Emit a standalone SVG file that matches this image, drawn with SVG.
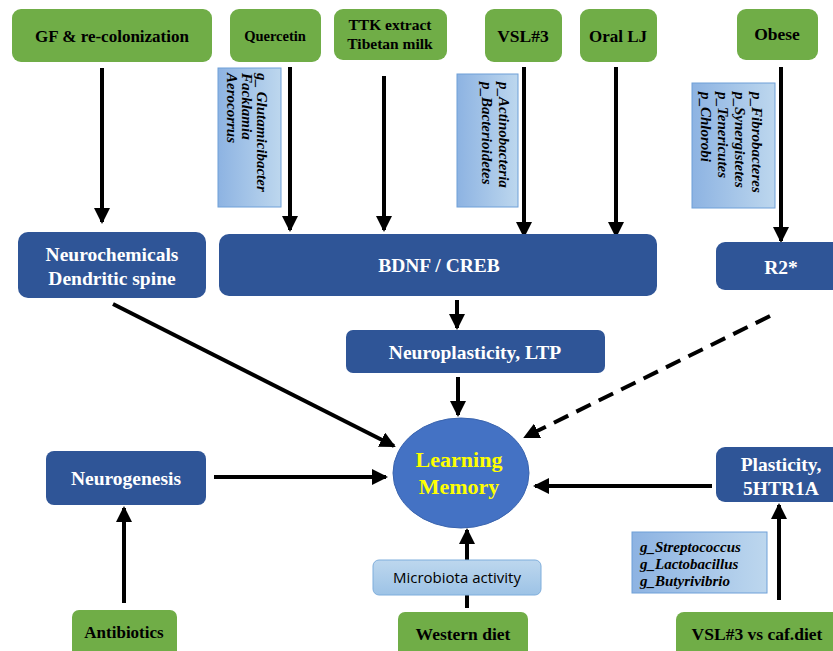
<svg xmlns="http://www.w3.org/2000/svg" width="833" height="651" viewBox="0 0 833 651">
<defs>
<marker id="ah" markerUnits="userSpaceOnUse" markerWidth="16" markerHeight="16" refX="14" refY="8" orient="auto">
<path d="M0,0 L16,8 L0,16 z" fill="#000"/>
</marker>
<linearGradient id="lb" x1="0" y1="0" x2="1" y2="0">
<stop offset="0" stop-color="#8DB3E2"/>
<stop offset="1" stop-color="#BDD7EE"/>
</linearGradient>
<linearGradient id="lb2" x1="0" y1="0" x2="0" y2="1">
<stop offset="0" stop-color="#BDD7EE"/>
<stop offset="1" stop-color="#9DC3E6"/>
</linearGradient>
<style>
.g{fill:#70AD47;}
.d{fill:#2F5597;}
.sb{fill:url(#lb);stroke:#6FA0D8;stroke-width:1;}
.tb{font-family:"Liberation Serif",serif;font-weight:bold;fill:#000;text-anchor:middle;}
.tw{font-family:"Liberation Serif",serif;font-weight:bold;fill:#fff;text-anchor:middle;font-size:19.5px;}
.ti{font-family:"Liberation Serif",serif;font-weight:bold;font-style:italic;fill:#000;font-size:15px;}
.c line{stroke:#000;stroke-width:4;marker-end:url(#ah);}
</style>
</defs>
<rect width="833" height="651" fill="#fff"/>

<g class="c" id="connectors">
<line x1="102" y1="68" x2="102" y2="222"/>
<line x1="290" y1="67" x2="290" y2="230"/>
<line x1="384" y1="76" x2="384" y2="230"/>
<line x1="524" y1="67" x2="524" y2="236"/>
<line x1="616" y1="67" x2="616" y2="236"/>
<line x1="781" y1="67" x2="781" y2="241"/>
<line x1="113" y1="304" x2="394" y2="446"/>
<line x1="457" y1="300" x2="457" y2="328"/>
<line x1="458" y1="377" x2="458" y2="415"/>
<line x1="770" y1="316" x2="525" y2="437" stroke-dasharray="16,9"/>
<line x1="214" y1="477" x2="386" y2="477"/>
<line x1="712" y1="486" x2="535" y2="486"/>
<line x1="124" y1="603" x2="124" y2="508"/>
<line x1="467" y1="608" x2="467" y2="530"/>
<line x1="779" y1="600" x2="779" y2="505"/>
</g>

<g id="n-gf"><rect class="g" x="12" y="9" width="200" height="53" rx="9"/><text class="tb" x="112" y="42" font-size="17">GF &amp; re-colonization</text></g>
<g id="n-quercetin"><rect class="g" x="230" y="9" width="91" height="53" rx="9"/><text class="tb" x="275" y="41" font-size="14.5">Quercetin</text></g>
<g id="n-ttk"><rect class="g" x="334" y="9" width="113" height="51" rx="9"/><text class="tb" x="390" y="30" font-size="15.5">TTK extract</text><text class="tb" x="390" y="49" font-size="15.5">Tibetan milk</text></g>
<g id="n-vsl3"><rect class="g" x="485" y="9" width="77" height="53" rx="9"/><text class="tb" x="523" y="42" font-size="17.5">VSL#3</text></g>
<g id="n-orallj"><rect class="g" x="580" y="9" width="77" height="53" rx="9"/><text class="tb" x="618" y="42" font-size="17">Oral LJ</text></g>
<g id="n-obese"><rect class="g" x="737" y="9" width="81" height="51" rx="9"/><text class="tb" x="777" y="40" font-size="17.5">Obese</text></g>

<g id="n-quercetin-taxa"><rect class="sb" x="218" y="68" width="63" height="139"/>
<g transform="translate(257,73) rotate(90)"><text class="ti" x="0" y="0">g_ Glutamicibacter</text><text class="ti" x="0" y="15">Facklamia</text><text class="ti" x="0" y="30">Aerocorrus</text></g></g>
<g id="n-vsl3-taxa"><rect class="sb" x="457" y="74" width="61" height="133"/>
<g transform="translate(499,82) rotate(90)"><text class="ti" x="0" y="0">p_Actinobacteria</text><text class="ti" x="0" y="17">p_Bacterioidetes</text></g></g>
<g id="n-obese-taxa"><rect class="sb" x="692" y="83" width="83" height="125"/>
<g transform="translate(752,92) rotate(90)"><text class="ti" x="0" y="0">p_Fibrobacteres</text><text class="ti" x="0" y="17">p_Synergistetes</text><text class="ti" x="0" y="34">p_Tenericutes</text><text class="ti" x="0" y="51">p_Chlorobi</text></g></g>

<g id="n-neurochem"><rect class="d" x="18" y="232" width="188" height="66" rx="10"/><text class="tw" x="112" y="261">Neurochemicals</text><text class="tw" x="112" y="285">Dendritic spine</text></g>
<g id="n-bdnf"><rect class="d" x="219" y="234" width="438" height="62" rx="10"/><text class="tw" x="439" y="272">BDNF / CREB</text></g>
<g id="n-r2"><rect class="d" x="716" y="242" width="130" height="48" rx="9"/><text class="tw" x="781" y="274">R2*</text></g>
<g id="n-neuroplast"><rect class="d" x="346" y="330" width="259" height="43" rx="7"/><text class="tw" x="475" y="359">Neuroplasticity, LTP</text></g>
<g id="n-neurogen"><rect class="d" x="46" y="451" width="160" height="54" rx="8"/><text class="tw" x="126" y="485">Neurogenesis</text></g>
<g id="n-plast"><rect class="d" x="716" y="447" width="130" height="55" rx="9"/><text class="tw" x="781" y="471" font-size="17">Plasticity,</text><text class="tw" x="781" y="495" font-size="17">5HTR1A</text></g>

<g id="n-learning"><ellipse cx="461" cy="473" rx="68" ry="55" fill="#4472C4" stroke="#3A64AE" stroke-width="1"/><text class="tb" x="459" y="467" font-size="22" style="fill:#FFFF00">Learning</text><text class="tb" x="459" y="494" font-size="22" style="fill:#FFFF00">Memory</text></g>

<g id="n-microbiota"><rect x="373" y="560" width="168" height="35" rx="6" fill="url(#lb2)" stroke="#7FAEDC" stroke-width="1"/><text x="457" y="583" font-family="'Open Sans','Noto Sans',sans-serif" font-size="15" text-anchor="middle" fill="#000">Microbiota activity</text></g>
<g id="n-genera"><rect class="sb" x="632" y="532" width="135" height="61"/><text class="ti" x="640" y="552">g_Streptococcus</text><text class="ti" x="640" y="569">g_Lactobacillus</text><text class="ti" x="640" y="586">g_Butyrivibrio</text></g>

<g id="n-antibiotics"><rect class="g" x="72" y="610" width="105" height="50" rx="7"/><text class="tb" x="124" y="638" font-size="17">Antibiotics</text></g>
<g id="n-western"><rect class="g" x="398" y="612" width="130" height="48" rx="7"/><text class="tb" x="463" y="640" font-size="17.5">Western diet</text></g>
<g id="n-vslcaf"><rect class="g" x="676" y="612" width="170" height="48" rx="8"/><text class="tb" x="757" y="640" font-size="17.5">VSL#3 vs caf.diet</text></g>
</svg>
